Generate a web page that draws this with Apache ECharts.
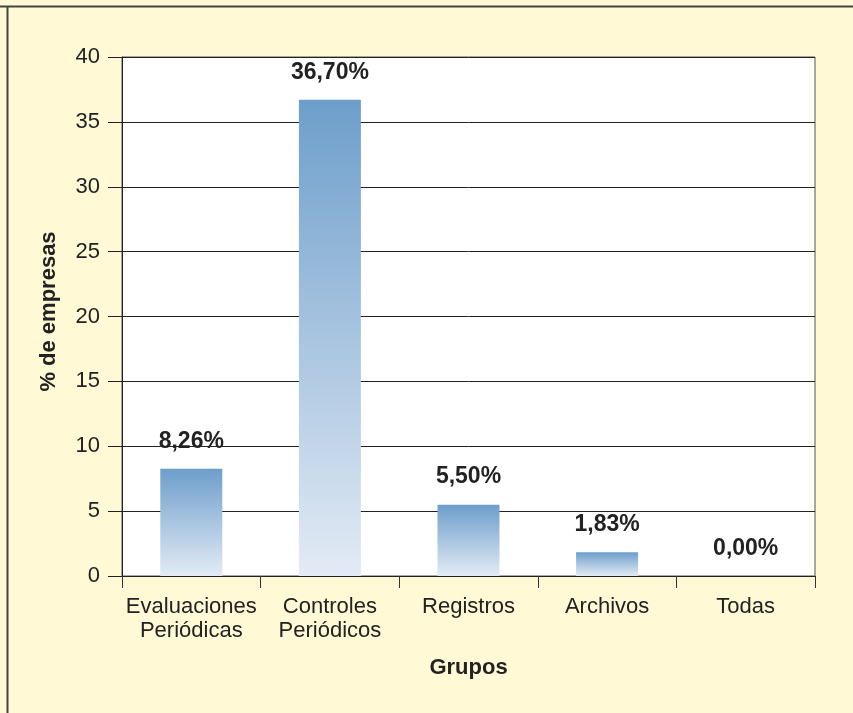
<!DOCTYPE html>
<html>
<head>
<meta charset="utf-8">
<script src="https://cdn.jsdelivr.net/npm/echarts@6/dist/echarts.min.js"></script>
<style>
  html, body { margin: 0; padding: 0; background: #FFF9D6; }
  #chart { width: 853px; height: 713px; }
</style>
</head>
<body>
<div id="chart"></div>
<script>
// Groups of tools and the share of companies using each one (%)
const categories = ['Evaluaciones\nPeriódicas', 'Controles\nPeriódicos', 'Registros', 'Archivos', 'Todas'];
const values = [8.26, 36.70, 5.50, 1.83, 0.00];
const yTicks = [0, 5, 10, 15, 20, 25, 30, 35, 40];

const fontFamily = 'Liberation Sans, Arial, sans-serif';
const ink = '#222';

const chart = echarts.init(document.getElementById('chart'), null, { renderer: 'canvas' });

const barFill = new echarts.graphic.LinearGradient(0, 0, 0, 1, [
  { offset: 0, color: '#6d9ecb' },
  { offset: 1, color: '#e3ebf5' }
]);

chart.setOption({
  backgroundColor: '#FFF9D6',
  animation: false,
  textStyle: { fontFamily: fontFamily },
  graphic: [
    { type: 'line', shape: { x1: 0, y1: 6.5, x2: 853, y2: 6.5 }, style: { stroke: '#444', lineWidth: 2 } },
    { type: 'line', shape: { x1: 7.5, y1: 6, x2: 7.5, y2: 713 }, style: { stroke: '#444', lineWidth: 2 } }
  ],
  grid: {
    left: 122, right: 38, top: 57, bottom: 137,
    show: true,
    backgroundColor: '#ffffff',
    borderColor: '#555',
    borderWidth: 1
  },
  xAxis: {
    type: 'category',
    data: categories,
    name: 'Grupos',
    nameLocation: 'middle',
    nameGap: 81,
    nameTextStyle: { fontSize: 22, fontWeight: 'bold', color: ink, fontFamily: fontFamily },
    axisLine: { lineStyle: { color: '#222', width: 1 } },
    axisTick: { show: true, length: 12, alignWithLabel: false, lineStyle: { color: '#333' } },
    axisLabel: { fontSize: 22, color: ink, margin: 19, lineHeight: 24, fontFamily: fontFamily, interval: 0 },
    splitLine: { show: false }
  },
  yAxis: {
    type: 'value',
    min: yTicks[0],
    max: yTicks[yTicks.length - 1],
    interval: yTicks[1] - yTicks[0],
    name: '% de empresas',
    nameLocation: 'middle',
    nameGap: 62,
    nameTextStyle: { fontSize: 22, fontWeight: 'bold', color: ink, fontFamily: fontFamily, padding: [0, 0, 0, 10] },
    axisLine: { show: true, lineStyle: { color: '#222', width: 1 } },
    axisTick: { show: true, length: 14, inside: false, lineStyle: { color: '#222' } },
    axisLabel: { fontSize: 22, color: ink, margin: 22, fontFamily: fontFamily },
    splitLine: { show: true, lineStyle: { color: '#222', width: 1 } }
  },
  series: [{
    type: 'bar',
    data: values,
    barWidth: 62,
    itemStyle: { color: barFill },
    label: {
      show: true,
      position: 'top',
      distance: 16,
      fontSize: 23,
      fontWeight: 'bold',
      color: ink,
      fontFamily: fontFamily,
      formatter: p => p.value.toFixed(2).replace('.', ',') + '%'
    }
  }]
});
</script>
</body>
</html>
